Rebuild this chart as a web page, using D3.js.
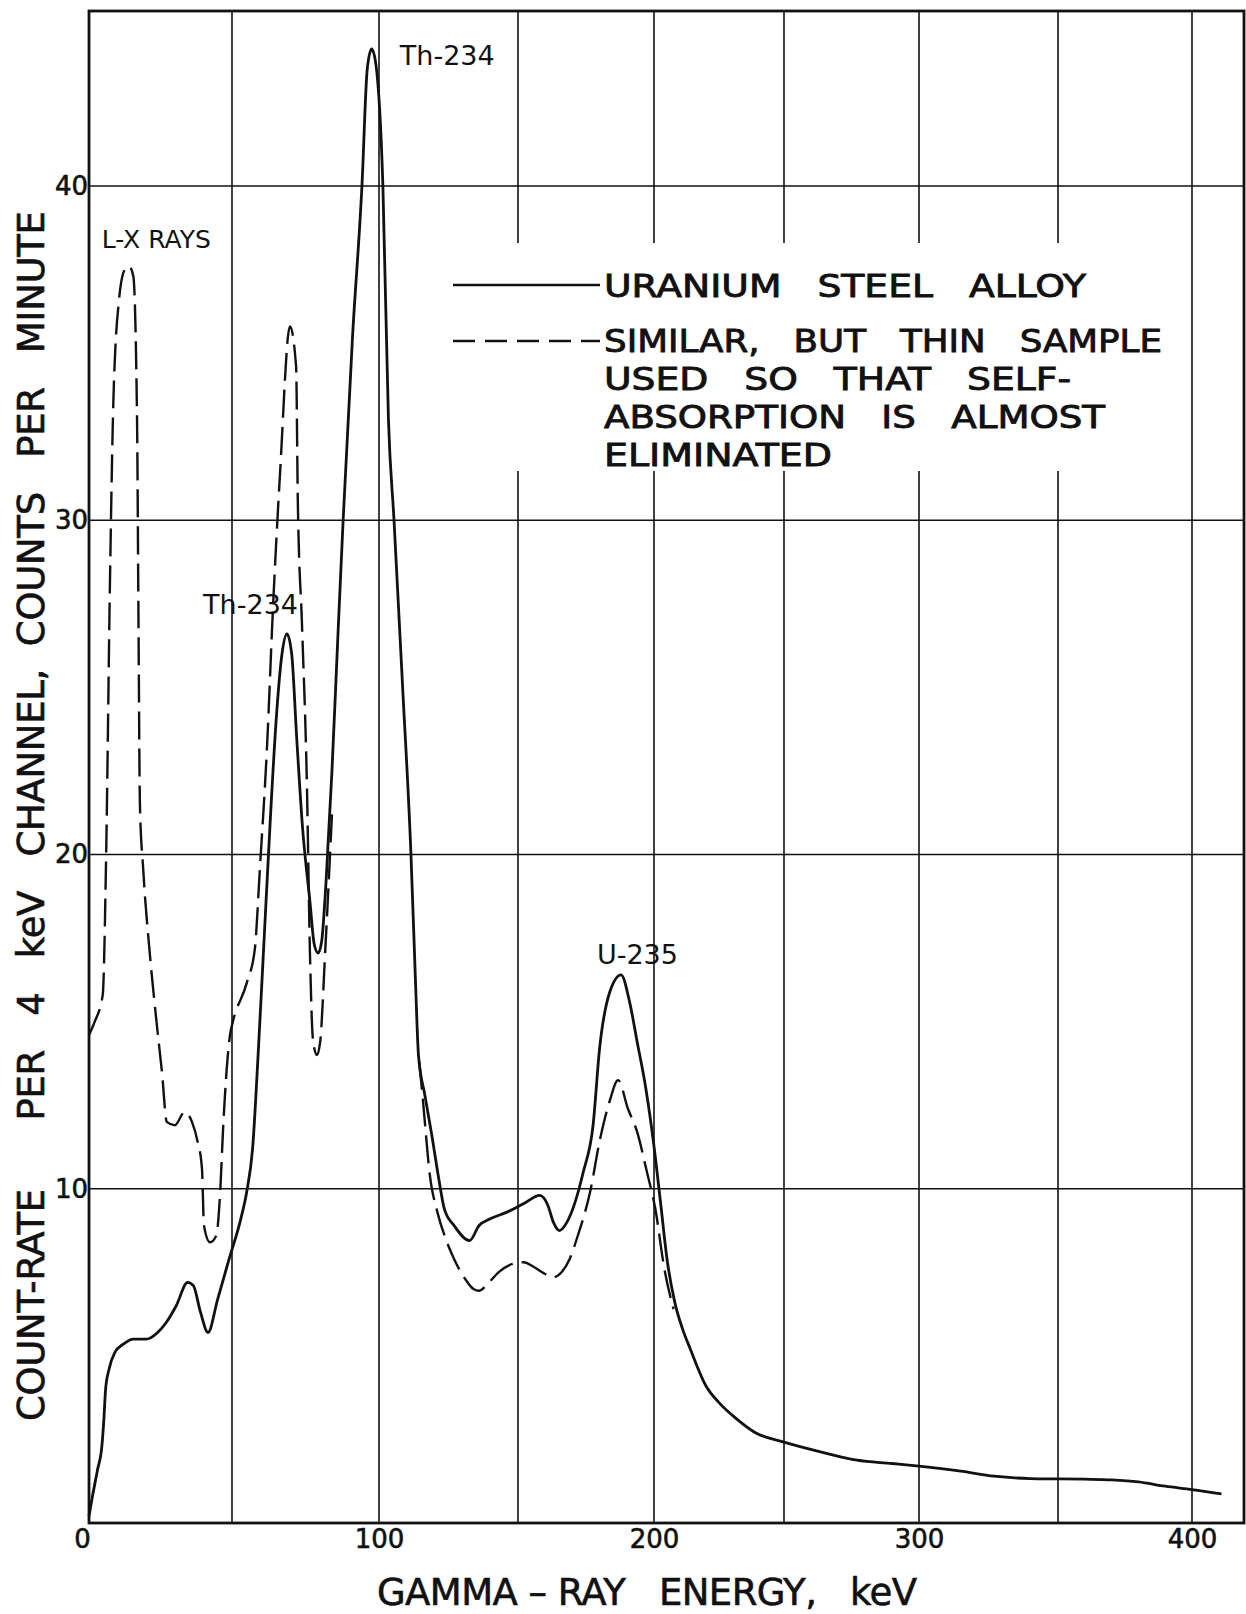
<!DOCTYPE html>
<html>
<head>
  <meta charset="utf-8">
  <title>Gamma-ray spectrum of uranium steel alloy</title>
  <script src="https://d3js.org/d3.v7.min.js"></script>
  <style>
    body { margin: 0; background: #fff; }
    text { font-family: "DejaVu Sans", sans-serif; fill: #111; white-space: pre; }
    .heavy { stroke: #111; stroke-width: 0.6px; }
    .legend { stroke: #111; stroke-width: 0.9px; }
  </style>
</head>
<body>
  <svg width="1246" height="1614"></svg>
  <script>
    // solid curve: uranium steel alloy (energy keV, counts/min per 4 keV channel)
    var alloyEnergy = [0, 1, 3, 4.5, 5.2, 5.8, 7, 9, 12, 15.5, 20, 24, 27, 30.5, 34.5, 36.5, 39, 41.6,
      45, 49, 53, 55, 57, 59, 61, 63, 65, 67, 68.7, 70.3, 72, 74, 76.5, 78, 79.3, 80.5, 82, 84, 86,
      87.8, 91, 94.2, 96, 97.5, 99, 101.4, 103.4, 105.4, 108.5, 111.5, 113, 114.2, 116.5, 119, 121.5,
      123.5, 127, 132.6, 136, 140, 146, 152, 158, 161, 163, 165.2, 168, 171, 174, 177.6, 180, 183.8,
      187.9, 191, 193.8, 197, 199.8, 202.5, 205, 208, 211, 214, 220, 225, 232, 239, 250, 265,
      277, 290, 300, 315, 327, 340, 350, 360, 370, 380, 390, 400, 411];
    var alloyRate = [0.2, 0.7, 1.6, 2.3, 3.1, 4.0, 4.6, 5.1, 5.35, 5.5, 5.5, 5.7, 6.0, 6.5, 7.2, 7.1, 6.3, 5.7,
      6.7, 7.9, 9.1, 9.9, 11.2, 14.2, 17.6, 21.0, 24.0, 26.0, 26.6, 26.0, 23.5, 20.8, 18.6, 17.3, 17.05, 17.4, 19.2, 22.5, 26.5,
      30.0, 35.5, 40.0, 43.5, 44.1, 43.6, 40.0, 33.0, 30.0, 25.0, 20.0, 16.5, 14.0, 12.8, 11.6, 10.3,
      9.4, 8.9, 8.45, 8.9, 9.1, 9.3, 9.55, 9.8, 9.5, 9.0, 8.75, 9.0, 9.6, 10.5, 11.9, 14.2, 15.9,
      16.4, 15.6, 14.4, 13.0, 11.4, 9.6, 7.9, 6.6, 5.8, 5.2, 4.1, 3.6, 3.1, 2.7, 2.42, 2.1,
      1.88, 1.78, 1.7, 1.55, 1.4, 1.33, 1.32, 1.31, 1.29, 1.23, 1.1, 1.0, 0.87];

    // dashed curve: thin sample (null = no dashed line drawn there)
    var thinEnergy = [0, 2, 4.8, 6, 7.3, 8.5, 10.5, 12.5, 14, 15.5, 16.8, 17.3, 17.8, 19, 21.3, 23.6, 25.5, 27.2,
      30, 33.5, 36, 38, 39.5, 40.2, 42.3, 44.5, 45.8, 47, 49.3, 50.3, 55, 57.8, 59.5, 61.9, 64, 66.4, 69.7,
      71.8, 72.4, 73.8, 75.5, 76.5, 77.6, 78.9, 80, 81.7, 84, 99,
      114.5, 115.8, 118.3, 121, 124, 127, 131, 134, 136, 139, 143, 148, 152, 156, 160, 163, 166, 169, 172,
      176.5, 180.1, 183.8, 186.8, 190.4, 193.8, 197.4, 200.5, 204, 207.5];
    var thinRate = [14.6, 15.0, 15.8, 20, 28, 33.5, 36.6, 37.5, 37.6, 37.3, 33.0, 27, 21.5, 19.5, 17.0, 15.0, 13.5, 12.0,
      11.9, 12.3, 12.0, 11.4, 10.6, 8.9, 8.4, 8.6, 9.8, 12, 14.6, 15.0, 16.15, 17.2, 19.6, 23.2, 27.5, 31.5, 35.8,
      34.6, 30.5, 26.9, 22.0, 17.1, 14.4, 14.0, 14.4, 17.1, 21.2, null,
      13.8, 12.65, 10.4, 9.3, 8.5, 7.9, 7.3, 7.0, 6.95, 7.15, 7.5, 7.75, 7.8, 7.65, 7.45, 7.35, 7.5, 7.9, 8.6,
      9.9, 11.46, 12.65, 13.25, 12.4, 11.7, 10.5, 9.4, 7.6, 6.4];

    var xTickValues = [0, 100, 200, 300, 400];
    var xGridValues = [50, 100, 150, 200, 250, 300, 350, 400];
    var yTickValues = [10, 20, 30, 40];

    var alloyLabel = "URANIUM   STEEL   ALLOY";
    var thinLabel = ["SIMILAR,   BUT   THIN   SAMPLE", "USED   SO   THAT   SELF-",
      "ABSORPTION   IS   ALMOST", "ELIMINATED"];
    var peakLabels = [
      {text: "L-X RAYS", e: 4.5, r: 38.4, size: 25},
      {text: "Th-234", e: 107.5, r: 43.9, size: 27},
      {text: "Th-234", e: 39.9, r: 27.5, size: 27},
      {text: "U-235", e: 179, r: 17.0, size: 27}
    ];

    var svg = d3.select("svg");
    var plotRight = 1244, plotTop = 11;

    // the scanned sheet is a little stretched at low energy, so follow its grid lines
    var x = d3.scaleLinear()
      .domain([0, 50, 100, 150, 200, 250, 300, 350, 400])
      .range([89, 232, 379, 518, 654, 784, 919, 1058, 1192]);
    var y = d3.scaleLinear().domain([0, 40]).range([1523, 186]);

    var alloy = alloyEnergy.map(function(e, i) { return [e, alloyRate[i]]; });
    var thin = thinEnergy.map(function(e, i) { return [e, thinRate[i]]; });

    // grid
    var grid = svg.append("g").attr("stroke", "#111").attr("stroke-width", 1.6);
    grid.selectAll(".vg").data(xGridValues).enter().append("line")
      .attr("x1", function(d) { return x(d); }).attr("x2", function(d) { return x(d); })
      .attr("y1", y(0)).attr("y2", plotTop);
    grid.selectAll(".hg").data(yTickValues).enter().append("line")
      .attr("x1", x(0)).attr("x2", plotRight)
      .attr("y1", function(d) { return y(d); }).attr("y2", function(d) { return y(d); });

    // legend sits on a blank patch of the grid
    svg.append("rect").attr("x", 445).attr("y", 243).attr("width", 732).attr("height", 228).attr("fill", "#fff");

    // frame
    svg.append("rect")
      .attr("x", x(0)).attr("y", plotTop)
      .attr("width", plotRight - x(0)).attr("height", y(0) - plotTop)
      .attr("fill", "none").attr("stroke", "#111").attr("stroke-width", 2.8);

    // tick labels from d3 axes, domain lines hidden
    var xAxis = svg.append("g").attr("transform", "translate(0," + y(0) + ")")
      .call(d3.axisBottom(x).tickValues(xTickValues).tickSize(0).tickPadding(25).tickFormat(d3.format("d")));
    var yAxis = svg.append("g").attr("transform", "translate(" + x(0) + ",0)")
      .call(d3.axisLeft(y).tickValues(yTickValues).tickSize(0).tickPadding(1).tickFormat(d3.format("d")));
    [xAxis, yAxis].forEach(function(a) {
      a.select(".domain").remove();
      a.selectAll("text").attr("class", "heavy")
        .attr("font-family", "DejaVu Sans, sans-serif").attr("font-size", 26).attr("fill", "#111");
    });
    xAxis.selectAll("text").attr("dy", "0em").attr("dx", function(d) { return d === 0 ? -7 : 0; });

    var line = d3.line()
      .defined(function(d) { return d[1] !== null; })
      .x(function(d) { return x(d[0]); })
      .y(function(d) { return y(d[1]); })
      .curve(d3.curveMonotoneX);

    svg.append("path").datum(thin).attr("d", line)
      .attr("fill", "none").attr("stroke", "#111").attr("stroke-width", 2.4)
      .attr("stroke-dasharray", "28,9");
    svg.append("path").datum(alloy).attr("d", line)
      .attr("fill", "none").attr("stroke", "#111").attr("stroke-width", 2.8);

    // peak labels
    svg.selectAll(".peak").data(peakLabels).enter().append("text")
      .attr("x", function(d) { return x(d.e); })
      .attr("y", function(d) { return y(d.r); })
      .attr("dy", "0.36em")
      .attr("font-size", function(d) { return d.size; })
      .text(function(d) { return d.text; });

    // legend
    svg.append("line").attr("x1", 453).attr("x2", 600).attr("y1", 285).attr("y2", 285)
      .attr("stroke", "#111").attr("stroke-width", 2.6);
    svg.append("line").attr("x1", 453).attr("x2", 600).attr("y1", 341).attr("y2", 341)
      .attr("stroke", "#111").attr("stroke-width", 2.6).attr("stroke-dasharray", "22,10");
    svg.append("text").attr("class", "legend")
      .attr("x", 604).attr("y", 285).attr("dy", "0.36em")
      .attr("font-size", 32)
      .attr("textLength", 482).attr("lengthAdjust", "spacingAndGlyphs")
      .text(alloyLabel);
    // the dashed-line entry wraps over four tightly leaded lines
    var thinY = [340, 378, 416, 454];
    var thinW = [558, 467, 501, 228];
    svg.selectAll(".thin").data(thinLabel).enter().append("text")
      .attr("class", "legend")
      .attr("x", 604)
      .attr("y", function(d, i) { return thinY[i]; })
      .attr("dy", "0.36em")
      .attr("font-size", 32)
      .attr("textLength", function(d, i) { return thinW[i]; })
      .attr("lengthAdjust", "spacingAndGlyphs")
      .text(function(d) { return d; });

    // axis titles
    svg.append("text").attr("class", "heavy")
      .attr("x", 377).attr("y", 1605)
      .attr("font-size", 37)
      .attr("textLength", 540).attr("lengthAdjust", "spacing")
      .text("GAMMA – RAY   ENERGY,   keV");
    svg.append("text").attr("class", "heavy")
      .attr("transform", "translate(44,816) rotate(-90)")
      .attr("text-anchor", "middle")
      .attr("font-size", 37)
      .attr("textLength", 1210).attr("lengthAdjust", "spacing")
      .text("COUNT-RATE      PER   4   keV   CHANNEL,  COUNTS   PER   MINUTE");
  </script>
</body>
</html>
